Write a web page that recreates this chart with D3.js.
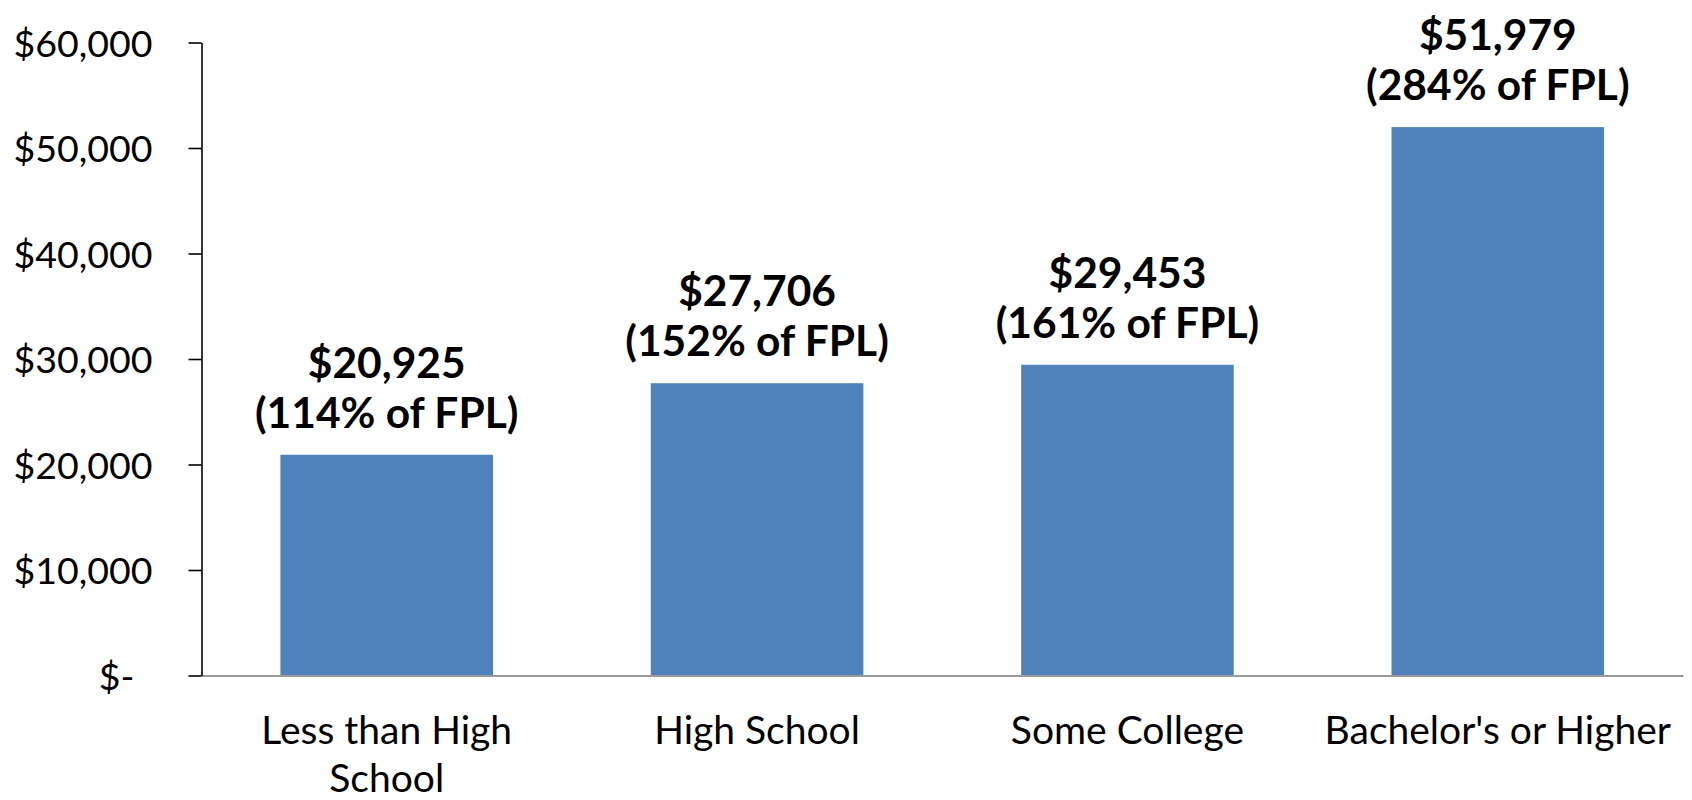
<!DOCTYPE html>
<html>
<head>
<meta charset="utf-8">
<script src="https://cdn.jsdelivr.net/npm/d3@7"></script>
<style>
  html, body { margin: 0; padding: 0; background: #fff; }
  svg { display: block; }
  text { font-family: Lato, "Open Sans", sans-serif; fill: #000; }
</style>
</head>
<body>
<svg id="chart" width="1692" height="800"></svg>
<script>
const categories = ["Less than High School", "High School", "Some College", "Bachelor's or Higher"];
const incomes = [20925, 27706, 29453, 51979];
const fplPercents = [114, 152, 161, 284];
const yTicks = [0, 10000, 20000, 30000, 40000, 50000, 60000];

const W = 1692, H = 800;
const margin = { left: 201.5, right: 9, top: 42.5, bottom: 124.5 };

const svg = d3.select("#chart");

const x = d3.scaleBand()
  .domain(categories)
  .range([margin.left, W - margin.right])
  .paddingInner(0.426)
  .paddingOuter(0.213);

const y = d3.scaleLinear()
  .domain([0, 60000])
  .range([H - margin.bottom, margin.top]);

const data = categories.map((c, i) => ({ cat: c, value: incomes[i], pct: fplPercents[i] }));

// Bars
svg.append("g")
  .selectAll("rect")
  .data(data)
  .join("rect")
  .attr("x", d => x(d.cat))
  .attr("y", d => y(d.value))
  .attr("width", x.bandwidth())
  .attr("height", d => y(0) - y(d.value))
  .attr("fill", "#4F81BD");

// X axis (gray line, no ticks)
const xAxis = svg.append("g")
  .attr("transform", `translate(0,${y(0)})`)
  .call(d3.axisBottom(x).tickSize(0).tickPadding(0).tickFormat(""));
xAxis.select(".domain").attr("stroke", "#9a9a9a").attr("stroke-width", 2);
xAxis.selectAll(".tick text").remove();

// Category labels with wrapping
const catG = svg.append("g");
data.forEach(d => {
  const cx = x(d.cat) + x.bandwidth() / 2;
  const t = catG.append("text")
    .attr("x", cx)
    .attr("y", y(0) + 68)
    .attr("text-anchor", "middle")
    .style("font-size", "39px");
  const words = d.cat.split(" ");
  let line = [];
  let tspan = t.append("tspan").attr("x", cx).attr("dy", 0);
  words.forEach(w => {
    line.push(w);
    tspan.text(line.join(" "));
    if (tspan.node().getComputedTextLength() > x.step() - 10 && line.length > 1) {
      line.pop();
      tspan.text(line.join(" "));
      line = [w];
      tspan = t.append("tspan").attr("x", cx).attr("dy", 48).text(w);
    }
  });
});

// Y axis
const yAxis = svg.append("g")
  .attr("transform", `translate(${margin.left},0)`)
  .call(d3.axisLeft(y)
    .tickValues(yTicks)
    .tickSize(13)
    .tickSizeOuter(0)
    .tickPadding(36)
    .tickFormat(v => v === 0 ? "$-" : "$" + d3.format(",")(v)));
yAxis.select(".domain").attr("stroke", "#000").attr("stroke-width", 1.6);
yAxis.selectAll(".tick line").attr("stroke", "#000").attr("stroke-width", 1.6);
yAxis.selectAll(".tick text")
  .style("font-size", "37.5px")
  .style("font-family", "Lato, sans-serif")
  .attr("fill", "#000")
  .attr("dy", "0.36em")
  .attr("dx", v => v === 0 ? -18 : 0);

// Data labels
const lblG = svg.append("g");
data.forEach(d => {
  const cx = x(d.cat) + x.bandwidth() / 2;
  const t = lblG.append("text")
    .attr("text-anchor", "middle")
    .style("font-size", "42.5px")
    .style("font-weight", "bold");
  t.append("tspan").attr("x", cx).attr("y", y(d.value) - 77).text("$" + d3.format(",")(d.value));
  t.append("tspan").attr("x", cx).attr("y", y(d.value) - 27).text(`(${d.pct}% of FPL)`);
});
</script>
</body>
</html>
